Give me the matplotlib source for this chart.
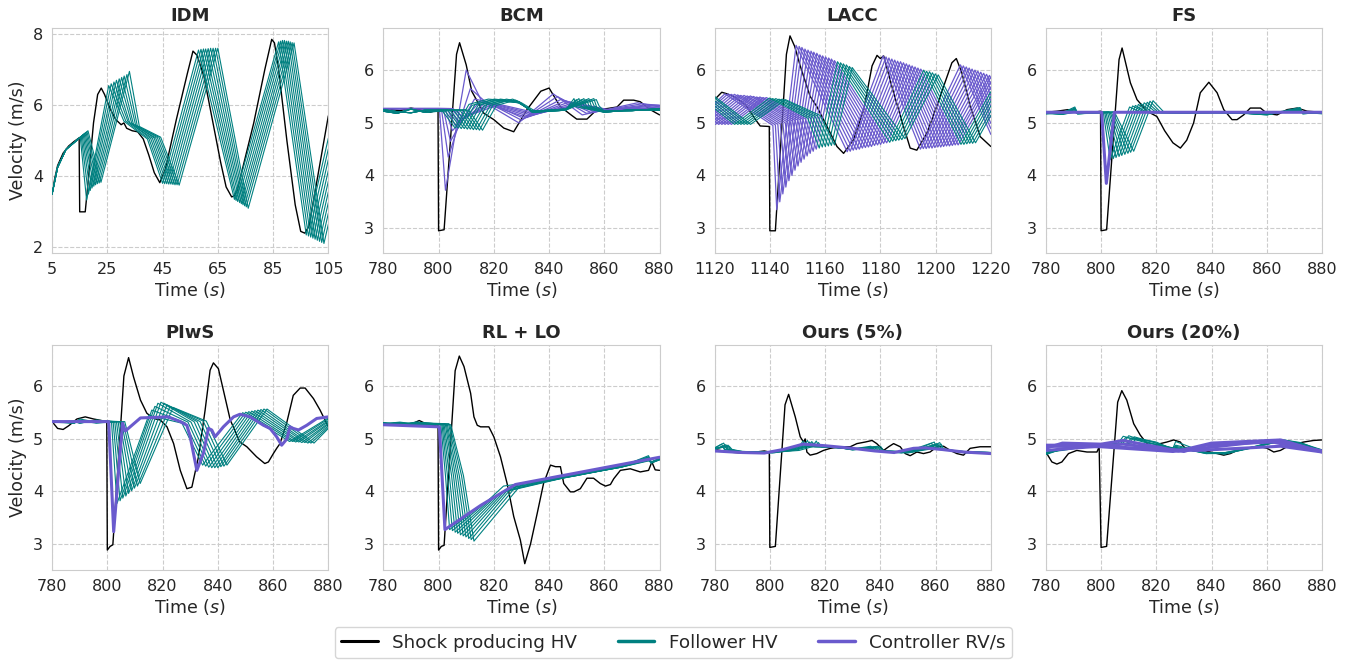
import matplotlib
matplotlib.use("Agg")
import matplotlib.pyplot as plt
from matplotlib.lines import Line2D
import seaborn as sns

# ---------------- IDM ----------------
IDM_LEAD_T = [5, 6, 7, 9, 11, 13, 14.8, 15, 17, 18, 20, 21.5, 22.8, 24, 26, 28, 30, 31, 32, 34,
              36, 38, 40, 42, 44, 46, 50, 54, 56, 57.5, 60, 63, 66, 68, 70, 71, 72, 78, 82, 84.5,
              85.5, 87, 90, 93, 95, 96.5, 98, 105]
IDM_LEAD_V = [3.5, 3.95, 4.3, 4.65, 4.85, 4.98, 5.08, 3.0, 3.0, 3.8, 5.5, 6.3, 6.48, 6.3, 5.9, 5.6, 5.45, 5.5, 5.35, 5.28,
              5.25, 5.05, 4.6, 4.1, 3.82, 4.2, 5.6, 6.9, 7.52, 7.4, 6.8, 5.6, 4.4, 3.7, 3.42, 3.45, 3.6, 5.5, 7.0, 7.85,
              7.75, 7.0, 5.0, 3.2, 2.45, 2.4, 2.6, 5.7]
IDM_FOL_T = [
    [5, 7, 10, 15.2, 17.5, 25.5, 31.0, 39.5, 45.0, 58.0, 71.0, 87.0, 97.0, 105],
    [5, 7, 10, 15.55, 18.15, 26.4, 31.7, 40.1, 45.75, 58.9, 71.6, 87.7, 97.8, 105],
    [5, 7, 10, 15.9, 18.8, 27.4, 32.4, 40.7, 46.5, 59.8, 72.2, 88.4, 98.6, 105],
    [5, 7, 10, 16.25, 19.45, 28.3, 33.1, 41.3, 47.25, 60.6, 72.9, 89.1, 99.4, 105],
    [5, 7, 10, 16.6, 20.1, 29.3, 33.8, 41.9, 48.0, 61.5, 73.5, 89.8, 100.2, 105],
    [5, 7, 10, 16.95, 20.75, 30.2, 34.5, 42.5, 48.75, 62.4, 74.1, 90.5, 101.0, 105],
    [5, 7, 10, 17.3, 21.4, 31.1, 35.2, 43.1, 49.5, 63.3, 74.7, 91.2, 101.8, 105],
    [5, 7, 10, 17.65, 22.05, 32.1, 35.9, 43.7, 50.25, 64.2, 75.3, 91.9, 102.6, 105],
    [5, 7, 10, 18.0, 22.7, 33.0, 36.6, 44.3, 51.0, 65.0, 76.0, 92.6, 103.4, 105],
]
IDM_FOL_V = [
    [3.5, 4.25, 4.75, 5.10, 3.33, 6.55, 5.55, 5.05, 3.80, 7.55, 3.35, 7.78, 2.35, 5.07],
    [3.5, 4.25, 4.75, 5.12, 3.50, 6.60, 5.55, 5.05, 3.79, 7.57, 3.32, 7.80, 2.32, 4.77],
    [3.5, 4.25, 4.75, 5.14, 3.60, 6.65, 5.55, 5.06, 3.79, 7.58, 3.29, 7.82, 2.29, 4.47],
    [3.5, 4.25, 4.75, 5.17, 3.67, 6.70, 5.50, 5.07, 3.78, 7.58, 3.26, 7.82, 2.26, 4.16],
    [3.5, 4.25, 4.75, 5.19, 3.72, 6.74, 5.50, 5.08, 3.78, 7.59, 3.23, 7.80, 2.23, 3.86],
    [3.5, 4.25, 4.75, 5.21, 3.76, 6.78, 5.45, 5.08, 3.77, 7.60, 3.20, 7.80, 2.20, 3.56],
    [3.5, 4.25, 4.75, 5.23, 3.79, 6.82, 5.45, 5.09, 3.76, 7.60, 3.17, 7.78, 2.17, 3.26],
    [3.5, 4.25, 4.75, 5.25, 3.81, 6.86, 5.40, 5.10, 3.76, 7.60, 3.14, 7.76, 2.14, 2.96],
    [3.5, 4.25, 4.75, 5.28, 3.83, 6.95, 5.40, 5.10, 3.75, 7.60, 3.10, 7.75, 2.11, 2.65],
]

# ---------------- BCM ----------------
BCM_LEAD_T = [780, 783, 786, 790, 793, 797, 799.8, 800, 802, 806.5, 807.6, 810, 812, 816.4, 820, 823.6, 827.2,
              832, 837, 840, 844, 847.7, 850, 853.7, 857.3, 861, 864.6, 867, 870.6, 873, 876.6, 880]
BCM_LEAD_V = [5.22, 5.25, 5.23, 5.28, 5.25, 5.2, 5.25, 2.95, 2.97, 6.3, 6.52, 6.1, 5.6, 5.18, 5.06, 4.9, 4.83,
              5.25, 5.6, 5.66, 5.31, 5.16, 5.07, 5.07, 5.25, 5.27, 5.3, 5.43, 5.43, 5.4, 5.25, 5.15]
BCM_CTL_T = [
    [780, 800.3, 802.5, 810, 815.5, 829, 841.5, 852, 872, 880],
    [780, 801.0, 803.5, 811.5, 816.5, 830, 843, 853.5, 873.5, 880],
    [780, 801.7, 804.3, 813, 817.5, 831, 844.5, 855, 875, 880],
    [780, 802.4, 805, 815, 832, 846, 856.5, 876.5, 880],
    [780, 803.1, 806, 817, 833, 847.5, 858, 878, 880],
    [780, 803.8, 807, 818.5, 834, 849, 859.5, 880],
    [780, 804.5, 808, 820, 835, 850.5, 861, 880],
    [780, 805.2, 809, 822, 836, 852, 862.5, 880],
]
BCM_CTL_V = [
    [5.27, 5.27, 3.72, 6.0, 5.42, 5.0, 5.55, 5.15, 5.38, 5.3],
    [5.27, 5.27, 4.35, 5.65, 5.42, 5.05, 5.5, 5.18, 5.36, 5.33],
    [5.27, 5.27, 4.65, 5.45, 5.4, 5.08, 5.45, 5.2, 5.34, 5.33],
    [5.27, 5.27, 4.85, 5.4, 5.1, 5.42, 5.21, 5.33, 5.33],
    [5.27, 5.27, 4.95, 5.38, 5.12, 5.4, 5.22, 5.32, 5.32],
    [5.27, 5.27, 5.02, 5.37, 5.14, 5.38, 5.23, 5.3],
    [5.27, 5.27, 5.07, 5.36, 5.16, 5.36, 5.24, 5.28],
    [5.27, 5.27, 5.1, 5.35, 5.18, 5.35, 5.24, 5.27],
]
BCM_FOL_T = [
    [780, 785, 790, 795, 801.0, 806.0, 811.0, 818.0, 829, 834, 846, 849.0, 850.0, 860, 870, 880],
    [780, 785, 790, 795, 802.1, 807.1, 812.1, 819.1, 829, 834, 846, 849.9, 850.9, 860, 870, 880],
    [780, 785, 790, 795, 803.2, 808.2, 813.2, 820.2, 829, 834, 846, 850.8, 851.8, 860, 870, 880],
    [780, 785, 790, 795, 804.3, 809.3, 814.3, 821.3, 829, 834, 846, 851.7, 852.7, 860, 870, 880],
    [780, 785, 790, 795, 805.4, 810.4, 815.4, 822.4, 829, 834, 846, 852.6, 853.6, 860, 870, 880],
    [780, 785, 790, 795, 806.5, 811.5, 816.5, 823.5, 829, 834, 846, 853.5, 854.5, 860, 870, 880],
    [780, 785, 790, 795, 807.6, 812.6, 817.6, 824.6, 829, 834, 846, 854.4, 855.4, 860, 870, 880],
    [780, 785, 790, 795, 808.7, 813.7, 818.7, 825.7, 829, 834, 846, 855.3, 856.3, 860, 870, 880],
    [780, 785, 790, 795, 809.8, 814.8, 819.8, 826.8, 829, 834, 846, 856.2, 857.2, 860, 870, 880],
    [780, 785, 790, 795, 810.9, 815.9, 820.9, 827.9, 830, 835, 846, 857.1, 858.1, 860, 870, 880],
]
BCM_FOL_V = [
    [5.22, 5.18, 5.26, 5.20, 5.25, 4.90, 5.35, 5.45, 5.40, 5.20, 5.24, 5.46, 5.30, 5.20, 5.25, 5.24],
    [5.25, 5.21, 5.19, 5.24, 5.24, 4.90, 5.33, 5.43, 5.38, 5.22, 5.26, 5.44, 5.32, 5.22, 5.23, 5.27],
    [5.22, 5.18, 5.26, 5.20, 5.25, 4.89, 5.35, 5.45, 5.40, 5.20, 5.24, 5.46, 5.30, 5.20, 5.25, 5.24],
    [5.25, 5.21, 5.19, 5.24, 5.24, 4.89, 5.33, 5.43, 5.38, 5.22, 5.26, 5.44, 5.32, 5.22, 5.23, 5.27],
    [5.22, 5.18, 5.26, 5.20, 5.25, 4.88, 5.35, 5.45, 5.40, 5.20, 5.24, 5.46, 5.30, 5.20, 5.25, 5.24],
    [5.25, 5.21, 5.19, 5.24, 5.24, 4.88, 5.33, 5.43, 5.38, 5.22, 5.26, 5.44, 5.32, 5.22, 5.23, 5.27],
    [5.22, 5.18, 5.26, 5.20, 5.25, 4.87, 5.35, 5.45, 5.40, 5.20, 5.24, 5.46, 5.30, 5.20, 5.25, 5.24],
    [5.25, 5.21, 5.19, 5.24, 5.24, 4.87, 5.33, 5.43, 5.38, 5.22, 5.26, 5.44, 5.32, 5.22, 5.23, 5.27],
    [5.22, 5.18, 5.26, 5.20, 5.25, 4.86, 5.35, 5.45, 5.40, 5.20, 5.24, 5.46, 5.30, 5.20, 5.25, 5.24],
    [5.25, 5.21, 5.19, 5.24, 5.24, 4.86, 5.33, 5.43, 5.38, 5.22, 5.26, 5.44, 5.32, 5.22, 5.23, 5.27],
]

# ---------------- LACC ----------------
LACC_LEAD_T = [1120, 1122.6, 1124.5, 1128, 1131.7, 1134, 1136.5, 1139.8, 1140, 1142, 1146, 1147.3, 1149,
               1151, 1154.6, 1157, 1160.7, 1164.3, 1166.7, 1170.3, 1174, 1177, 1178.8, 1180, 1181.2,
               1184.8, 1188.4, 1190.8, 1193.2, 1196.8, 1199.3, 1202.9, 1205.9, 1207.5, 1209.5, 1212.5,
               1216.1, 1220]
LACC_LEAD_V = [5.44, 5.58, 5.55, 5.47, 5.31, 5.12, 4.94, 4.93, 2.95, 2.95, 6.3, 6.65, 6.45,
               6.08, 5.5, 5.31, 4.93, 4.55, 4.42, 4.68, 5.25, 6.08, 6.28, 6.22, 6.27,
               5.57, 4.93, 4.52, 4.48, 4.8, 5.15, 5.69, 6.14, 6.22, 5.95, 5.31,
               4.74, 4.55]
LACC_CTL_T = [
    [1120, 1123.75, 1141.1, 1142.5, 1149.5, 1168.0, 1181.0, 1194.5, 1209.0, 1220],
    [1120, 1124.9, 1142.0, 1143.6, 1150.6, 1169.1, 1182.05, 1195.55, 1210.05, 1220],
    [1120, 1126.05, 1142.9, 1144.7, 1151.6, 1170.2, 1183.1, 1196.6, 1211.1, 1220],
    [1120, 1127.2, 1143.8, 1145.8, 1152.7, 1171.3, 1184.15, 1197.65, 1212.15, 1220],
    [1120, 1128.35, 1144.7, 1146.9, 1153.8, 1172.4, 1185.2, 1198.7, 1213.2, 1220],
    [1120, 1129.5, 1145.6, 1148.0, 1154.9, 1173.5, 1186.25, 1199.75, 1214.25, 1220],
    [1120, 1130.65, 1146.5, 1149.1, 1155.9, 1174.6, 1187.3, 1200.8, 1215.3, 1220],
    [1120, 1131.8, 1147.4, 1150.2, 1157.0, 1175.7, 1188.35, 1201.85, 1216.35, 1220],
    [1120, 1120.35, 1132.95, 1148.3, 1151.3, 1158.1, 1176.8, 1189.4, 1202.9, 1217.4, 1220],
    [1120, 1121.5, 1134.1, 1149.2, 1152.4, 1159.1, 1177.9, 1190.45, 1203.95, 1218.45, 1220],
    [1120, 1122.65, 1135.25, 1150.1, 1153.5, 1160.2, 1179.0, 1191.5, 1205.0, 1219.5, 1220],
    [1120, 1123.8, 1136.4, 1151.0, 1154.6, 1161.3, 1180.1, 1192.55, 1206.05, 1220],
    [1120, 1124.95, 1137.55, 1151.9, 1155.7, 1162.3, 1181.2, 1193.6, 1207.1, 1220],
    [1120, 1126.1, 1138.7, 1152.8, 1156.8, 1163.4, 1182.3, 1194.65, 1208.15, 1220],
]
LACC_CTL_V = [
    [5.37, 5.55, 4.95, 3.35, 6.47, 4.45, 6.27, 4.50, 6.10, 4.78],
    [5.33, 5.55, 4.96, 3.50, 6.45, 4.46, 6.25, 4.51, 6.08, 4.89],
    [5.28, 5.54, 4.97, 3.65, 6.43, 4.48, 6.23, 4.51, 6.06, 4.99],
    [5.22, 5.54, 4.98, 3.78, 6.40, 4.49, 6.21, 4.52, 6.04, 5.10],
    [5.17, 5.53, 4.99, 3.90, 6.38, 4.50, 6.19, 4.52, 6.02, 5.20],
    [5.12, 5.52, 5.00, 4.00, 6.36, 4.52, 6.17, 4.53, 6.00, 5.31],
    [5.06, 5.52, 5.01, 4.10, 6.34, 4.53, 6.16, 4.54, 5.98, 5.42],
    [5.01, 5.51, 5.02, 4.18, 6.32, 4.54, 6.14, 4.54, 5.96, 5.52],
    [4.98, 4.97, 5.51, 5.03, 4.25, 6.29, 4.55, 6.12, 4.55, 5.94, 5.63],
    [5.03, 4.97, 5.50, 5.04, 4.31, 6.27, 4.57, 6.10, 4.56, 5.92, 5.73],
    [5.08, 4.97, 5.49, 5.05, 4.37, 6.25, 4.58, 6.08, 4.56, 5.90, 5.84],
    [5.13, 4.97, 5.49, 5.06, 4.42, 6.23, 4.59, 6.06, 4.57, 5.87],
    [5.18, 4.97, 5.48, 5.07, 4.46, 6.21, 4.61, 6.04, 4.58, 5.78],
    [5.23, 4.97, 5.48, 5.08, 4.50, 6.18, 4.62, 6.02, 4.58, 5.68],
]
LACC_FOL_T = [
    [1120, 1127.25, 1139.85, 1153.7, 1157.9, 1164.5, 1183.4, 1195.7, 1209.2, 1220],
    [1120, 1128.4, 1141.0, 1154.6, 1159.0, 1165.6, 1184.5, 1196.75, 1210.25, 1220],
    [1120, 1129.55, 1142.15, 1155.5, 1160.1, 1166.6, 1185.6, 1197.8, 1211.3, 1220],
    [1120, 1130.7, 1143.3, 1156.4, 1161.2, 1167.7, 1186.7, 1198.85, 1212.35, 1220],
    [1120, 1131.85, 1144.45, 1157.3, 1162.3, 1168.8, 1187.8, 1199.9, 1213.4, 1220],
    [1120, 1133.0, 1145.6, 1158.2, 1163.4, 1169.8, 1188.9, 1200.95, 1214.45, 1220],
]
LACC_FOL_V = [
    [5.27, 4.97, 5.47, 5.09, 4.52, 6.16, 4.63, 6.00, 4.59, 5.59],
    [5.32, 4.97, 5.46, 5.10, 4.54, 6.14, 4.65, 5.98, 4.59, 5.50],
    [5.37, 4.97, 5.46, 5.11, 4.55, 6.12, 4.66, 5.97, 4.60, 5.41],
    [5.42, 4.97, 5.45, 5.12, 4.56, 6.10, 4.67, 5.95, 4.61, 5.32],
    [5.47, 4.97, 5.45, 5.13, 4.57, 6.07, 4.68, 5.93, 4.61, 5.22],
    [5.50, 4.97, 5.44, 5.14, 4.58, 6.05, 4.70, 5.91, 4.62, 5.14],
]

# ---------------- FS ----------------
FS_LEAD_T = [780, 784, 788, 791, 795, 799.8, 800, 802, 806.5, 807.6, 810.6, 813, 816.6, 820.2, 823, 826,
             828.7, 831, 833.5, 835.9, 839, 842, 844.4, 847.4, 849.2, 851.6, 854, 857.7, 860, 863.7,
             867.3, 871, 874.6, 880]
FS_LEAD_V = [5.2, 5.22, 5.25, 5.2, 5.18, 5.22, 2.95, 2.97, 6.2, 6.42, 5.76, 5.44, 5.22, 5.12, 4.85, 4.62,
             4.52, 4.67, 5.0, 5.57, 5.77, 5.57, 5.25, 5.06, 5.06, 5.15, 5.28, 5.28, 5.18, 5.15,
             5.25, 5.28, 5.22, 5.2]
FS_CTL_T = [[780, 800.2, 801.9, 804.8, 880]]
FS_CTL_V = [[5.2, 5.2, 3.85, 5.2, 5.2]]
FS_FOL_T = [
    [780, 786, 790.5, 791.5, 800.8, 803.3, 810.3, 814.3, 830, 845, 860, 872, 873, 880],
    [780, 786, 790.5, 791.5, 801.3, 804.4, 811.4, 815.4, 830, 845, 860, 872, 873, 880],
    [780, 786, 790.5, 791.5, 801.8, 805.4, 812.4, 816.4, 830, 845, 860, 872, 873, 880],
    [780, 786, 790.5, 791.5, 802.3, 806.5, 813.5, 817.5, 830, 845, 860, 872, 873, 880],
    [780, 786, 790.5, 791.5, 802.8, 807.5, 814.5, 818.5, 830, 845, 860, 872, 873, 880],
    [780, 786, 790.5, 791.5, 803.3, 808.6, 815.6, 819.6, 830, 845, 860, 872, 873, 880],
    [780, 786, 790.5, 791.5, 803.8, 809.7, 816.7, 820.7, 830, 845, 860, 872, 873, 880],
    [780, 786, 790.5, 791.5, 804.3, 810.7, 817.7, 821.7, 830, 845, 860, 872, 873, 880],
    [780, 786, 790.5, 791.5, 804.8, 811.8, 818.8, 822.8, 830, 845, 860, 872, 873, 880],
]
FS_FOL_V = [
    [5.18, 5.16, 5.27, 5.18, 5.20, 4.30, 5.30, 5.20, 5.18, 5.20, 5.16, 5.26, 5.18, 5.19],
    [5.20, 5.18, 5.22, 5.17, 5.20, 4.32, 5.32, 5.21, 5.20, 5.18, 5.18, 5.22, 5.20, 5.17],
    [5.17, 5.20, 5.25, 5.19, 5.19, 4.34, 5.33, 5.20, 5.19, 5.21, 5.15, 5.28, 5.17, 5.20],
    [5.19, 5.16, 5.20, 5.18, 5.20, 4.36, 5.35, 5.19, 5.18, 5.20, 5.17, 5.24, 5.19, 5.18],
    [5.18, 5.19, 5.30, 5.17, 5.21, 4.38, 5.36, 5.20, 5.20, 5.19, 5.16, 5.26, 5.18, 5.19],
    [5.20, 5.17, 5.23, 5.19, 5.20, 4.40, 5.38, 5.21, 5.18, 5.20, 5.18, 5.23, 5.20, 5.18],
    [5.17, 5.18, 5.26, 5.18, 5.19, 4.42, 5.39, 5.20, 5.19, 5.21, 5.15, 5.27, 5.17, 5.20],
    [5.19, 5.16, 5.21, 5.17, 5.20, 4.44, 5.41, 5.19, 5.20, 5.19, 5.17, 5.25, 5.19, 5.18],
    [5.18, 5.19, 5.28, 5.19, 5.21, 4.46, 5.42, 5.20, 5.18, 5.20, 5.16, 5.29, 5.18, 5.19],
]

# ---------------- PIwS ----------------
PIWS_LEAD_T = [780, 782, 784, 786, 789, 792, 795, 799.8, 800, 801, 802, 806, 807.7, 809.5, 812, 814.3,
               816.7, 819.2, 821.6, 824, 826.4, 828.8, 830.6, 833, 835.4, 837.2, 838.4, 840.2, 842,
               844.5, 848, 850.5, 854, 857, 858.3, 860.1, 861.3, 862.5, 864.9, 867.3, 869.8, 871.6,
               874.6, 877, 880]
PIWS_LEAD_V = [5.33, 5.2, 5.18, 5.25, 5.38, 5.42, 5.38, 5.33, 2.88, 2.95, 2.98, 6.2, 6.55, 6.18, 5.74, 5.49,
               5.39, 5.36, 5.23, 4.91, 4.4, 4.05, 4.08, 4.66, 5.55, 6.31, 6.45, 6.34, 5.93,
               5.36, 4.94, 4.85, 4.66, 4.53, 4.56, 4.72, 4.82, 4.91, 5.3, 5.83, 5.97, 5.97,
               5.77, 5.55, 5.23]
PIWS_CTL_T = [[780, 800.5, 802.3, 805.5, 806.5, 812, 822, 826.4, 828.8, 830, 832.4, 834.8, 836.6, 837.8,
               839, 842, 845.7, 848, 851.7, 856.5, 858.9, 861.3, 863.1, 865, 866.1, 867.3, 869.2,
               872.2, 875.8, 880]]
PIWS_CTL_V = [[5.33, 5.33, 3.23, 5.3, 5.15, 5.4, 5.42, 5.33, 5.26, 5.04, 4.4, 4.73, 5.2, 5.17,
               5.04, 5.23, 5.42, 5.47, 5.42, 5.26, 5.2, 5.04, 4.88, 5.0, 5.23, 5.2, 5.17,
               5.26, 5.39, 5.42]]
PIWS_FOL_T = [
    [780, 788, 790, 796, 801.5, 803.5, 815.0, 827.0, 834.5, 849.0, 866.0, 880],
    [780, 788, 790, 796, 802.1, 804.6, 816.1, 828.1, 835.6, 850.1, 867.1, 880],
    [780, 788, 790, 796, 802.7, 805.6, 817.2, 829.2, 836.7, 851.2, 868.2, 880],
    [780, 788, 790, 796, 803.3, 806.7, 818.3, 830.3, 837.8, 852.3, 869.3, 880],
    [780, 788, 790, 796, 803.9, 807.7, 819.4, 831.4, 838.9, 853.4, 870.4, 880],
    [780, 788, 790, 796, 804.5, 808.8, 820.5, 832.5, 840.0, 854.5, 871.5, 880],
    [780, 788, 790, 796, 805.1, 809.8, 821.6, 833.6, 841.1, 855.6, 872.6, 880],
    [780, 788, 790, 796, 805.7, 810.9, 822.7, 834.7, 842.2, 856.7, 873.7, 880],
    [780, 788, 790, 796, 806.3, 811.9, 823.8, 835.8, 843.3, 857.8, 874.8, 880],
]
PIWS_FOL_V = [
    [5.33, 5.30, 5.38, 5.32, 5.33, 3.77, 5.45, 5.30, 4.50, 5.50, 4.95, 5.40],
    [5.32, 5.34, 5.30, 5.36, 5.33, 3.82, 5.55, 5.31, 4.48, 5.51, 4.95, 5.38],
    [5.34, 5.30, 5.35, 5.30, 5.33, 3.87, 5.62, 5.32, 4.46, 5.52, 4.94, 5.35],
    [5.33, 5.33, 5.31, 5.34, 5.33, 3.91, 5.68, 5.32, 4.45, 5.53, 4.94, 5.33],
    [5.32, 5.30, 5.36, 5.31, 5.33, 3.96, 5.70, 5.33, 4.45, 5.54, 4.93, 5.30],
    [5.34, 5.33, 5.30, 5.35, 5.33, 4.01, 5.68, 5.33, 4.45, 5.55, 4.93, 5.28],
    [5.33, 5.31, 5.34, 5.32, 5.33, 4.06, 5.65, 5.33, 4.47, 5.56, 4.92, 5.25],
    [5.32, 5.34, 5.31, 5.33, 5.33, 4.10, 5.62, 5.34, 4.48, 5.57, 4.92, 5.22],
    [5.34, 5.31, 5.35, 5.31, 5.33, 4.15, 5.60, 5.34, 4.50, 5.57, 4.92, 5.20],
]

# ---------------- RL + LO ----------------
RL_LEAD_T = [780, 785, 790, 793, 795, 798, 799.8, 800, 801, 802, 806, 807.5, 809.2, 811.6, 812.8, 814,
             815.2, 818.2, 820, 822.4, 824.8, 827.2, 829.6, 831.2, 833.3, 835.7, 838, 840.5, 842.3,
             844.1, 845.3, 847.7, 849, 851.3, 853.7, 856.1, 858.5, 860.4, 862.2, 863.4, 865.8,
             869.4, 873, 876, 877.2, 878.4, 880]
RL_LEAD_V = [5.27, 5.3, 5.28, 5.35, 5.3, 5.25, 5.27, 2.88, 2.95, 2.97, 6.3, 6.58, 6.38, 5.87, 5.42, 5.26,
             5.23, 5.23, 5.04, 4.66, 4.15, 3.52, 3.07, 2.62, 3.0, 3.58, 4.15, 4.5, 4.47,
             4.47, 4.15, 3.99, 3.99, 4.05, 4.25, 4.25, 4.15, 4.1, 4.13, 4.24, 4.4,
             4.43, 4.37, 4.4, 4.56, 4.41, 4.4]
RL_CTL_T = [[780, 790, 800.3, 802.3, 815.2, 827.8, 848.9, 880]]
RL_CTL_V = [[5.27, 5.25, 5.23, 3.27, 3.73, 4.13, 4.34, 4.65]]
RL_FOL_T = [
    [780, 786, 792, 800.8, 802.5, 804.0, 816.0, 823, 848.9, 866, 876, 877, 880],
    [780, 786, 792, 801.2, 803.2, 805.0, 817.6, 823.5, 848.9, 866, 876, 877, 880],
    [780, 786, 792, 801.6, 803.9, 806.0, 819.2, 824, 848.9, 866, 876, 877, 880],
    [780, 786, 792, 802.0, 804.7, 806.9, 820.8, 824.5, 848.9, 866, 876, 877, 880],
    [780, 786, 792, 802.4, 805.4, 807.9, 822.4, 825, 848.9, 866, 876, 877, 880],
    [780, 786, 792, 802.8, 806.1, 808.9, 824.0, 825.5, 848.9, 866, 876, 877, 880],
    [780, 786, 792, 803.2, 806.8, 809.9, 825.6, 827, 848.9, 866, 876, 877, 880],
    [780, 786, 792, 803.6, 807.5, 810.9, 827.2, 829, 848.9, 866, 876, 877, 880],
    [780, 786, 792, 804.0, 808.3, 811.8, 828.8, 831, 848.9, 866, 876, 877, 880],
    [780, 786, 792, 804.4, 809.0, 812.8, 830.4, 833, 848.9, 866, 876, 877, 880],
]
RL_FOL_V = [
    [5.30, 5.26, 5.32, 5.28, 4.30, 3.27, 3.76, 3.98, 4.30, 4.47, 4.68, 4.55, 4.62],
    [5.28, 5.31, 5.27, 5.29, 4.30, 3.25, 3.81, 4.10, 4.29, 4.46, 4.60, 4.54, 4.61],
    [5.31, 5.27, 5.30, 5.28, 4.30, 3.22, 3.86, 4.00, 4.31, 4.48, 4.66, 4.56, 4.63],
    [5.29, 5.32, 5.28, 5.27, 4.30, 3.20, 3.91, 4.02, 4.30, 4.46, 4.58, 4.55, 4.60],
    [5.30, 5.27, 5.31, 5.29, 4.30, 3.17, 3.96, 4.05, 4.29, 4.47, 4.64, 4.54, 4.62],
    [5.28, 5.30, 5.27, 5.28, 4.30, 3.15, 4.01, 4.06, 4.31, 4.48, 4.62, 4.56, 4.61],
    [5.31, 5.28, 5.32, 5.27, 4.30, 3.13, 4.06, 4.10, 4.30, 4.46, 4.59, 4.55, 4.63],
    [5.29, 5.31, 5.28, 5.29, 4.30, 3.10, 4.11, 4.13, 4.29, 4.47, 4.65, 4.54, 4.60],
    [5.30, 5.27, 5.30, 5.28, 4.30, 3.08, 4.14, 4.16, 4.31, 4.48, 4.61, 4.56, 4.62],
    [5.28, 5.30, 5.27, 5.27, 4.30, 3.05, 4.16, 4.18, 4.30, 4.46, 4.63, 4.55, 4.61],
]

# ---------------- Ours (5%) ----------------
O5_LEAD_T = [780, 785, 790, 795, 798, 799.8, 800, 802, 805.5, 806.8, 809.2, 811, 812.2, 812.8, 813.4, 814.6,
             817, 819.4, 821.9, 824.3, 826.7, 829.1, 831.5, 834.5, 837, 838.7, 841.2, 843, 844.8, 847.2,
             849, 850.8, 853.2, 855.6, 858, 860.5, 862.9, 865.3, 867.7, 870.1, 872.5, 876.1, 880]
O5_LEAD_V = [4.8, 4.75, 4.73, 4.75, 4.77, 4.75, 2.93, 2.95, 5.65, 5.85, 5.42, 5.04, 4.94, 5.0, 4.75, 4.69,
             4.72, 4.78, 4.82, 4.84, 4.85, 4.85, 4.91, 4.94, 4.97, 4.91, 4.78, 4.85, 4.91, 4.85,
             4.72, 4.68, 4.75, 4.72, 4.75, 4.85, 4.86, 4.78, 4.72, 4.69, 4.82, 4.85, 4.85]
O5_CTL_T = [[780, 790, 798, 805, 812, 820, 830, 838, 845, 852, 856, 862, 870, 880]]
O5_CTL_V = [[4.77, 4.74, 4.73, 4.8, 4.9, 4.87, 4.82, 4.77, 4.74, 4.82, 4.83, 4.8, 4.75, 4.72]]
O5_FOL_T = [
    [780, 782.5, 783.5, 790, 797.0, 805.0, 811.0, 812.0, 813.0, 822, 830, 836.0, 837.0, 846.0, 853.0, 858.5, 859.5, 870, 880],
    [780, 782.9, 783.9, 790, 797.8, 805.8, 811.8, 812.8, 813.8, 822, 830, 836.6, 837.6, 846.8, 853.8, 859.0, 860.0, 870, 880],
    [780, 783.3, 784.3, 790, 798.6, 806.6, 812.6, 813.6, 814.6, 822, 830, 837.2, 838.2, 847.6, 854.6, 859.5, 860.5, 870, 880],
    [780, 783.7, 784.7, 790, 799.4, 807.4, 813.4, 814.4, 815.4, 822, 830, 837.8, 838.8, 848.4, 855.4, 860.0, 861.0, 870, 880],
    [780, 784.1, 785.1, 790, 800.2, 808.2, 814.2, 815.2, 816.2, 822, 830, 838.4, 839.4, 849.2, 856.2, 860.5, 861.5, 870, 880],
    [780, 784.5, 785.5, 790, 801.0, 809.0, 815.0, 816.0, 817.0, 822, 830, 839.0, 840.0, 850.0, 857.0, 861.0, 862.0, 870, 880],
    [780, 784.9, 785.9, 790, 801.8, 809.8, 815.8, 816.8, 817.8, 822, 830, 839.6, 840.6, 850.8, 857.8, 861.5, 862.5, 870, 880],
    [780, 785.3, 786.3, 790, 802.6, 810.6, 816.6, 817.6, 818.6, 822, 830, 840.2, 841.2, 851.6, 858.6, 862.0, 863.0, 870, 880],
]
O5_FOL_V = [
    [4.82, 4.90, 4.80, 4.75, 4.74, 4.79, 4.88, 4.96, 4.86, 4.85, 4.80, 4.84, 4.78, 4.74, 4.82, 4.92, 4.81, 4.75, 4.73],
    [4.80, 4.86, 4.79, 4.76, 4.75, 4.78, 4.87, 4.93, 4.85, 4.84, 4.81, 4.86, 4.77, 4.75, 4.81, 4.88, 4.80, 4.76, 4.74],
    [4.83, 4.92, 4.81, 4.74, 4.73, 4.80, 4.89, 4.97, 4.87, 4.86, 4.79, 4.83, 4.78, 4.73, 4.83, 4.94, 4.82, 4.74, 4.72],
    [4.81, 4.87, 4.80, 4.75, 4.74, 4.79, 4.88, 4.94, 4.86, 4.85, 4.80, 4.85, 4.77, 4.74, 4.82, 4.90, 4.81, 4.75, 4.73],
    [4.79, 4.89, 4.78, 4.76, 4.75, 4.78, 4.87, 4.95, 4.85, 4.84, 4.81, 4.84, 4.78, 4.75, 4.81, 4.91, 4.80, 4.76, 4.74],
    [4.82, 4.85, 4.81, 4.74, 4.73, 4.80, 4.89, 4.92, 4.87, 4.86, 4.79, 4.86, 4.77, 4.73, 4.83, 4.89, 4.82, 4.74, 4.72],
    [4.80, 4.88, 4.79, 4.75, 4.74, 4.79, 4.88, 4.96, 4.86, 4.85, 4.80, 4.83, 4.78, 4.74, 4.82, 4.93, 4.81, 4.75, 4.73],
    [4.81, 4.86, 4.80, 4.76, 4.75, 4.78, 4.87, 4.93, 4.85, 4.84, 4.81, 4.85, 4.77, 4.75, 4.81, 4.90, 4.80, 4.76, 4.74],
]

# ---------------- Ours (20%) ----------------
O20_LEAD_T = [780, 782.2, 784, 785.8, 788.2, 791.2, 794.9, 798.5, 799.3, 800, 802, 806, 807.5, 809.3, 811.8,
              814.2, 816.6, 819, 821.4, 823.8, 826.3, 828.7, 829.9, 832.3, 834.7, 837.1, 839.6, 842, 844.4,
              846.8, 849.2, 851.6, 855.2, 857.7, 860.1, 862.5, 864.9, 867.3, 870.9, 873.3, 876.9, 880]
O20_LEAD_V = [4.75, 4.56, 4.52, 4.56, 4.72, 4.78, 4.75, 4.75, 4.85, 2.93, 2.95, 5.7, 5.92, 5.74, 5.29,
              5.07, 4.91, 4.85, 4.91, 4.94, 4.98, 4.94, 4.85, 4.78, 4.82, 4.78, 4.75, 4.72, 4.69,
              4.72, 4.78, 4.82, 4.84, 4.85, 4.82, 4.75, 4.78, 4.85, 4.91, 4.94, 4.97, 4.98]
O20_CTL_T = [
    [780, 786, 800, 808, 828, 840, 865, 880],
    [780, 808, 830, 838, 865, 880],
    [780, 800, 826, 860, 866, 880],
    [780, 795, 820, 835, 865, 880],
]
O20_CTL_V = [
    [4.82, 4.92, 4.90, 4.97, 4.77, 4.92, 4.98, 4.75],
    [4.78, 4.90, 4.76, 4.88, 4.95, 4.76],
    [4.86, 4.85, 4.76, 4.96, 4.90, 4.77],
    [4.88, 4.88, 4.80, 4.78, 4.86, 4.75],
]
O20_FOL_T = [
    [780, 786, 793, 800, 806, 808, 816.0, 826, 827, 838, 845, 856, 863.0, 869.0, 880],
    [780, 786, 793, 800, 807, 809, 816.8, 826, 827, 838, 845, 856, 863.8, 869.8, 880],
    [780, 786, 793, 800, 808, 810, 817.6, 826, 827, 838, 845, 856, 864.6, 870.6, 880],
    [780, 786, 793, 800, 809, 811, 818.4, 826, 827, 838, 845, 856, 865.4, 871.4, 880],
    [780, 786, 793, 800, 810, 812, 819.2, 826, 827, 838, 845, 856, 866.2, 872.2, 880],
    [780, 786, 793, 800, 811, 813, 820.0, 826, 827, 838, 845, 856, 867.0, 873.0, 880],
]
O20_FOL_V = [
    [4.72, 4.80, 4.85, 4.88, 4.90, 5.05, 4.93, 4.82, 4.95, 4.73, 4.72, 4.85, 4.98, 4.92, 4.78],
    [4.75, 4.78, 4.84, 4.87, 4.91, 5.03, 4.94, 4.80, 4.84, 4.72, 4.74, 4.84, 4.97, 4.93, 4.77],
    [4.70, 4.81, 4.86, 4.89, 4.92, 5.06, 4.92, 4.83, 4.88, 4.74, 4.71, 4.86, 4.99, 4.91, 4.79],
    [4.73, 4.79, 4.85, 4.88, 4.90, 5.02, 4.95, 4.81, 4.83, 4.73, 4.73, 4.85, 4.96, 4.92, 4.78],
    [4.74, 4.80, 4.83, 4.87, 4.91, 5.04, 4.93, 4.82, 4.86, 4.72, 4.72, 4.84, 4.98, 4.93, 4.77],
    [4.71, 4.82, 4.86, 4.89, 4.92, 5.01, 4.94, 4.80, 4.82, 4.74, 4.74, 4.86, 4.97, 4.91, 4.79],
]

TITLES = ["IDM", "BCM", "LACC", "FS", "PIwS", "RL + LO", "Ours (5%)", "Ours (20%)"]
LEGEND_LABELS = ["Shock producing HV", "Follower HV", "Controller RV/s"]

BLACK = "black"
TEAL = "#008080"
PURPLE = "#6a5acd"

sns.set_style("whitegrid", {"grid.linestyle": "--"})
plt.rcParams["font.family"] = ["DejaVu Sans"]

fig, axes = plt.subplots(2, 4, figsize=(13.63, 6.6), dpi=100)
fig.subplots_adjust(left=0.0382, right=0.97, top=0.9576, bottom=0.1364, wspace=0.199, hspace=0.404)

# (leader t, leader v, followers t, followers v, controllers t, controllers v, controller lw, controllers under followers)
panels = [
    (IDM_LEAD_T, IDM_LEAD_V, IDM_FOL_T, IDM_FOL_V, [], [], 2.2, False),
    (BCM_LEAD_T, BCM_LEAD_V, BCM_FOL_T, BCM_FOL_V, BCM_CTL_T, BCM_CTL_V, 0.9, True),
    (LACC_LEAD_T, LACC_LEAD_V, LACC_FOL_T, LACC_FOL_V, LACC_CTL_T, LACC_CTL_V, 0.9, True),
    (FS_LEAD_T, FS_LEAD_V, FS_FOL_T, FS_FOL_V, FS_CTL_T, FS_CTL_V, 2.2, False),
    (PIWS_LEAD_T, PIWS_LEAD_V, PIWS_FOL_T, PIWS_FOL_V, PIWS_CTL_T, PIWS_CTL_V, 2.2, False),
    (RL_LEAD_T, RL_LEAD_V, RL_FOL_T, RL_FOL_V, RL_CTL_T, RL_CTL_V, 2.2, False),
    (O5_LEAD_T, O5_LEAD_V, O5_FOL_T, O5_FOL_V, O5_CTL_T, O5_CTL_V, 2.2, False),
    (O20_LEAD_T, O20_LEAD_V, O20_FOL_T, O20_FOL_V, O20_CTL_T, O20_CTL_V, 2.2, False),
]

for i, ax in enumerate(axes.flat):
    lt, lv, ft, fv, ct, cv, clw, ctl_under = panels[i]
    ax.plot(lt, lv, color=BLACK, lw=1.0, zorder=2)
    z_f, z_c = (4, 3) if ctl_under else (3, 4)
    for t, v in zip(ft, fv):
        ax.plot(t, v, color=TEAL, lw=0.8, zorder=z_f)
    for t, v in zip(ct, cv):
        ax.plot(t, v, color=PURPLE, lw=clw, zorder=z_c)

    ax.set_title(TITLES[i], fontsize=13, fontweight="bold", pad=5)
    ax.set_xlabel("Time ($s$)", fontsize=12.5, labelpad=2)
    ax.tick_params(labelsize=11.5, pad=3)
    if i == 0:
        ax.set_xlim(5, 105)
        ax.set_xticks(range(5, 106, 20))
        ax.set_ylim(1.83, 8.17)
        ax.set_yticks([2, 4, 6, 8])
    else:
        x0 = lt[0]
        ax.set_xlim(x0, x0 + 100)
        ax.set_xticks(range(int(x0), int(x0) + 101, 20))
        ax.set_ylim(2.52 if i < 4 else 2.5, 6.8)
        ax.set_yticks([3, 4, 5, 6])
    if i % 4 == 0:
        ax.set_ylabel("Velocity (m/s)", fontsize=12.5, labelpad=4)

handles = [Line2D([], [], color=BLACK, lw=2.2),
           Line2D([], [], color=TEAL, lw=2.5),
           Line2D([], [], color=PURPLE, lw=2.5)]
fig.legend(handles, LEGEND_LABELS, loc="center", bbox_to_anchor=(0.494, 0.026), ncol=3,
           fontsize=13.2, handlelength=2.0, columnspacing=2.2, frameon=True, edgecolor="0.8",
           borderpad=0.35)

fig.savefig("out.png", dpi=100)
